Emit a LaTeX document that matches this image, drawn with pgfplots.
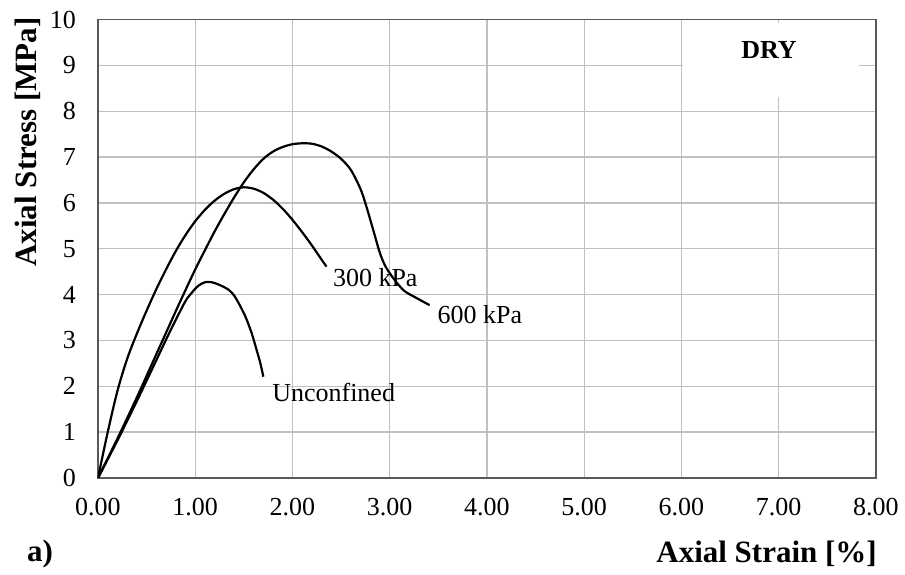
\documentclass[border=0pt]{standalone}
\usepackage{fontspec}
\setmainfont{Liberation Serif}
\usepackage{pgfplots}
\pgfplotsset{compat=1.18}
\begin{document}
\begin{tikzpicture}
\begin{axis}[
  scale only axis, width=778pt, height=458.5pt,
  xmin=0, xmax=8, ymin=0, ymax=10,
  xtick={0,1,...,8}, ytick={0,1,...,10},
  grid=major,
  major grid style={color=black!25, line width=1.3pt},
  axis line style={color=black!65, line width=1.4pt},
  major tick length=0pt,
  /pgf/number format/assume math mode=true,
  xticklabel style={/pgf/number format/.cd, fixed, fixed zerofill, precision=2, /tikz/.cd, font=\fontsize{26}{30}\selectfont, inner sep=0pt, anchor=north, yshift=-20pt},
  yticklabel style={font=\fontsize{26}{30}\selectfont, inner sep=0pt, anchor=east, xshift=-22pt},
]
\fill[white] (axis cs:6.02,8.31) rectangle (axis cs:7.83,9.92);
\node[font=\bfseries\fontsize{26}{30}\selectfont, inner sep=0pt] at (axis cs:6.9,9.33) {DRY};

% 300 kPa
\addplot[black, line width=2.2pt, smooth, tension=0.5] coordinates {
(0,0) (0.1,1.0) (0.2,1.9) (0.3,2.6) (0.4,3.15) (0.5,3.65) (0.6,4.12) (0.7,4.55) (0.8,4.95) (0.9,5.3) (1.0,5.6) (1.1,5.85) (1.2,6.05) (1.3,6.2) (1.4,6.3) (1.5,6.34) (1.6,6.31) (1.7,6.22) (1.8,6.07) (1.9,5.87) (2.0,5.63) (2.1,5.36) (2.2,5.07) (2.3,4.76) (2.35,4.61)
};
% 600 kPa
\addplot[black, line width=2.2pt, smooth, tension=0.5] coordinates {
(0,0) (0.2,0.86) (0.4,1.76) (0.6,2.7) (0.7,3.17) (0.8,3.64) (0.9,4.1) (1.0,4.55) (1.1,4.97) (1.2,5.38) (1.3,5.76) (1.4,6.12) (1.5,6.45) (1.6,6.73) (1.7,6.96) (1.8,7.12) (1.9,7.22) (2.0,7.28) (2.1,7.30) (2.2,7.29) (2.3,7.23) (2.4,7.12) (2.5,6.96) (2.6,6.72) (2.7,6.3) (2.76,5.92) (2.83,5.41) (2.9,4.9) (2.96,4.6) (3.05,4.32) (3.15,4.08) (3.28,3.92) (3.41,3.77)
};
% Unconfined
\addplot[black, line width=2.2pt, smooth, tension=0.5] coordinates {
(0,0) (0.2,0.82) (0.4,1.68) (0.6,2.57) (0.7,3.02) (0.8,3.45) (0.9,3.86) (0.96,4.03) (1.03,4.19) (1.1,4.27) (1.17,4.27) (1.25,4.21) (1.34,4.11) (1.40,3.98) (1.46,3.76) (1.52,3.5) (1.58,3.16) (1.63,2.8) (1.67,2.5) (1.70,2.21)
};

\node[anchor=base west, inner sep=0pt, font=\fontsize{26}{30}\selectfont] at (axis cs:2.415,4.17) {300 kPa};
\node[anchor=base west, inner sep=0pt, font=\fontsize{26}{30}\selectfont] at (axis cs:3.49,3.38) {600 kPa};
\node[anchor=base west, inner sep=0pt, font=\fontsize{26}{30}\selectfont] at (axis cs:1.79,1.66) {Unconfined};
\end{axis}
\node[anchor=base east, inner sep=0pt, font=\bfseries\fontsize{31}{36}\selectfont] at (779pt,-85pt) {Axial Strain [\%]};
\node[anchor=base west, inner sep=0pt, font=\bfseries\fontsize{31}{36}\selectfont] at (-71pt,-84pt) {a)};
\node[rotate=90, anchor=base, inner sep=0pt, font=\bfseries\fontsize{31}{36}\selectfont] at (-61pt,336pt) {Axial Stress [MPa]};
\pgfresetboundingbox
\path (-98pt,-97pt) rectangle (807pt,478pt);
\end{tikzpicture}
\end{document}
